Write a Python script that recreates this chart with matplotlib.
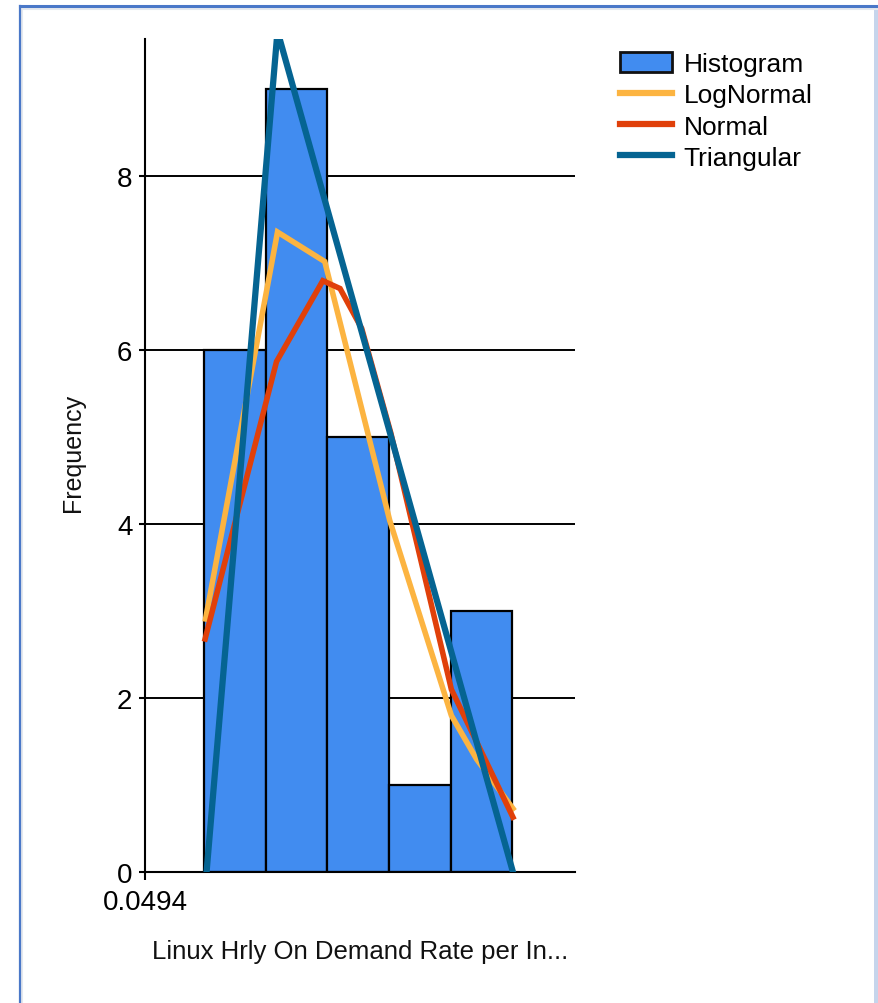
import matplotlib
matplotlib.use("Agg")
import matplotlib.pyplot as plt
from matplotlib.patches import Rectangle, Patch
from matplotlib.lines import Line2D

plt.rcParams['font.family'] = ['Liberation Sans', 'DejaVu Sans']

# Histogram bins and counts
bin_edges = [0.0614, 0.0739, 0.0864, 0.0990, 0.1115, 0.1240]
counts = [6, 9, 5, 1, 3]

# Fitted distribution curves (scaled to frequency)
lognormal_x = [0.0617, 0.0763, 0.0859, 0.0991, 0.1116, 0.1167, 0.1241]
lognormal_y = [2.91, 7.36, 7.02, 4.04, 1.80, 1.30, 0.73]

normal_x = [0.0616, 0.0761, 0.0855, 0.0890, 0.0934, 0.0993, 0.1116, 0.1241]
normal_y = [2.68, 5.87, 6.80, 6.71, 6.25, 5.05, 2.10, 0.63]

triangular_x = [0.0619, 0.0763, 0.1241]
triangular_y = [0.0, 9.67, 0.0]

x_ticks = [0.0494]
x_tick_labels = ["0.0494"]
y_ticks = [0, 2, 4, 6, 8]

x_label = "Linux Hrly On Demand Rate per In..."
y_label = "Frequency"
series_names = ["Histogram", "LogNormal", "Normal", "Triangular"]

C_HIST = "#418CF0"
C_LOGN = "#FCB441"
C_NORM = "#E0400A"
C_TRI = "#056492"

W, H = 879, 1004
fig = plt.figure(figsize=(W / 100, H / 100), dpi=100)
fig.patch.set_facecolor("white")

# Window frame (top, left and right edges only)
fig.add_artist(Line2D([22 / W, 1], [1 - 9.5 / H, 1 - 9.5 / H], transform=fig.transFigure,
                      color="#E4E8EE", lw=1.5))
fig.add_artist(Line2D([22.5 / W, 22.5 / W], [0, 1 - 9 / H], transform=fig.transFigure,
                      color="#E4E8EE", lw=1.5))
fig.add_artist(Line2D([20 / W, 1], [1 - 7 / H, 1 - 7 / H], transform=fig.transFigure,
                      color="#4A78C8", lw=2.2))
fig.add_artist(Line2D([20.5 / W, 20.5 / W], [0, 1 - 7 / H], transform=fig.transFigure,
                      color="#4A78C8", lw=1.6))
fig.add_artist(Rectangle((874 / W, 0), 5 / W, 1 - 8 / H, transform=fig.transFigure,
                         facecolor="#C6D5EC", edgecolor="none"))

left, right = 145 / W, 575 / W
bottom, top = 1 - 873 / H, 1 - 40 / H
ax = fig.add_axes([left, bottom, right - left, top - bottom])
ax.set_facecolor("white")
ax.set_axisbelow(True)

widths = [b - a for a, b in zip(bin_edges[:-1], bin_edges[1:])]
ax.bar(bin_edges[:-1], counts, width=widths, align="edge", color=C_HIST,
       edgecolor="black", linewidth=1.6, zorder=2)

lw = 4.0
ax.plot(lognormal_x, lognormal_y, color=C_LOGN, lw=lw, zorder=3, solid_joinstyle="miter")
ax.plot(normal_x, normal_y, color=C_NORM, lw=lw, zorder=4, solid_joinstyle="miter")
ax.plot(triangular_x, triangular_y, color=C_TRI, lw=lw + 0.5, zorder=5, solid_joinstyle="miter")

ax.set_xlim(0.0494, 0.1367)
ax.set_ylim(0, 9.58)

ax.set_yticks(y_ticks)
ax.set_yticklabels([str(v) for v in y_ticks])
ax.set_xticks(x_ticks)
ax.set_xticklabels(x_tick_labels)

ax.yaxis.grid(True, color="black", lw=1.4)
ax.xaxis.grid(False)

for s in ["top", "right"]:
    ax.spines[s].set_visible(False)
for s in ["left", "bottom"]:
    ax.spines[s].set_color("black")
    ax.spines[s].set_linewidth(1.5)

ax.tick_params(axis="y", length=4, width=1.5, pad=5, labelsize=20, colors="black")
ax.tick_params(axis="x", length=5.5, width=1.5, pad=7, labelsize=20, colors="black")

ax.set_xlabel(x_label, fontsize=18.5, labelpad=17, color="#111111")
ax.set_ylabel(y_label, fontsize=18, color="#111111", va="center")
ax.yaxis.set_label_coords((73 - 145) / 430, (873 - 453) / 833)

handles = [
    Patch(facecolor=C_HIST, edgecolor="#111111", linewidth=2.0),
    Line2D([], [], color=C_LOGN, lw=4.5),
    Line2D([], [], color=C_NORM, lw=4.5),
    Line2D([], [], color=C_TRI, lw=4.5),
]
fig.legend(handles, series_names, loc="upper left",
           bbox_to_anchor=(615 / W, 1 - 48 / H), frameon=False,
           fontsize=19, handlelength=1.95, handleheight=0.75, handletextpad=0.45,
           labelspacing=0.27, borderaxespad=0, borderpad=0.2)

fig.savefig("out.png", dpi=100, facecolor="white")
